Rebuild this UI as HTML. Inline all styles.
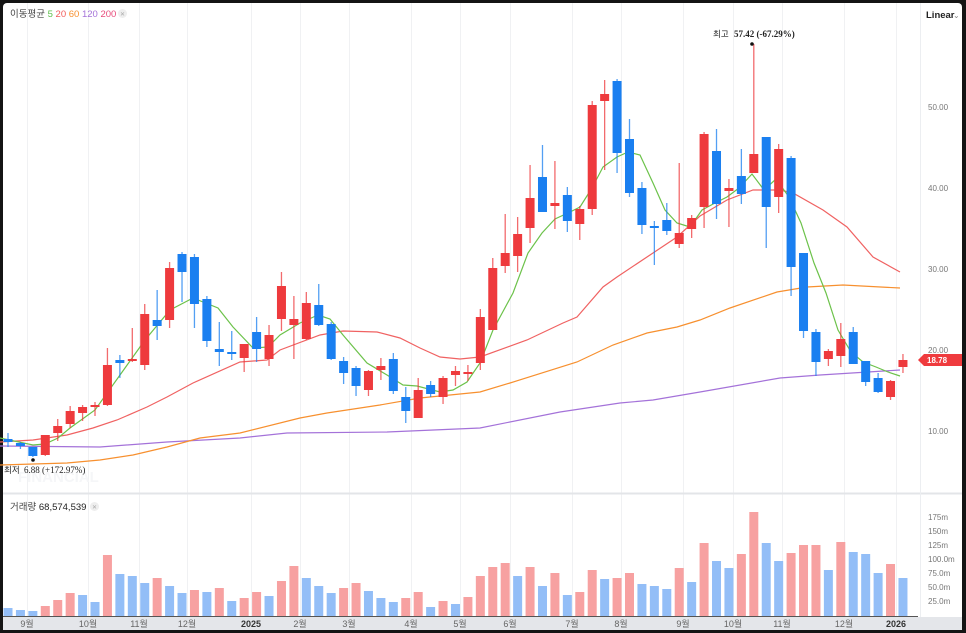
<!DOCTYPE html>
<html><head><meta charset="utf-8"><style>
html,body{margin:0;padding:0;background:#141414;}
#f{position:absolute;left:0;top:0;width:966px;height:633px;background:#141414;}
#c{position:absolute;left:3px;top:3px;width:959px;height:627px;background:#fff;border-radius:4px;overflow:hidden;}
svg{position:absolute;left:0;top:0;}
text{font-family:"Liberation Sans","Noto Sans CJK KR",sans-serif;}
</style></head><body>
<div id="f"><div id="c"></div>
<svg id="s" width="966" height="633" viewBox="0 0 966 633">
<g id="grid" stroke="#f0f1f3" stroke-width="1"></g>
<line x1="3" y1="493.5" x2="962" y2="493.5" stroke="#e3e5e8" stroke-width="2"/>
<line x1="920.5" y1="3" x2="920.5" y2="617" stroke="#eceef1"/>
<g id="vol"></g>
<g id="ma" fill="none" stroke-width="1.2"></g>
<g id="cnd"></g>
<rect x="3" y="617" width="959" height="13" fill="#e4e6ea"/>
<line x1="3" y1="616.5" x2="918" y2="616.5" stroke="#555" stroke-width="1"/>
<g font-size="9" fill="#666" text-anchor="middle" id="xl">
<text x="27" y="627">9월</text><text x="88" y="627">10월</text><text x="139" y="627">11월</text><text x="187" y="627">12월</text>
<text x="251" y="627" font-weight="bold" fill="#333">2025</text><text x="300" y="627">2월</text><text x="349" y="627">3월</text>
<text x="411" y="627">4월</text><text x="460" y="627">5월</text><text x="510" y="627">6월</text><text x="572" y="627">7월</text>
<text x="621" y="627">8월</text><text x="683" y="627">9월</text><text x="733" y="627">10월</text><text x="782" y="627">11월</text>
<text x="844" y="627">12월</text><text x="896" y="627" font-weight="bold" fill="#333">2026</text>
</g>
<g font-size="8" fill="#777">
<text x="928" y="110">50.00</text><text x="928" y="191">40.00</text><text x="928" y="272">30.00</text>
<text x="928" y="353">20.00</text><text x="928" y="434">10.00</text>
<text x="928" y="520">175m</text><text x="928" y="534">150m</text><text x="928" y="548">125m</text>
<text x="928" y="562">100.0m</text><text x="928" y="576">75.0m</text><text x="928" y="590">50.0m</text><text x="928" y="604">25.0m</text>
</g>
<text x="926" y="18" font-size="9.5" font-weight="bold" fill="#222">Linear</text>
<text x="953" y="18" font-size="8" fill="#888">⌄</text>
<polygon points="918,360 924,354 962,354 962,366 924,366" fill="#ef3b3e"/>
<text x="927" y="363" font-size="8" font-weight="bold" fill="#fff">18.78</text>
<text x="10" y="17" font-size="9.5"><tspan fill="#444">이동평균</tspan><tspan fill="#5cbf4a"> 5</tspan><tspan fill="#f25a5a"> 20</tspan><tspan fill="#f7902f"> 60</tspan><tspan fill="#a472d9"> 120</tspan><tspan fill="#e84b7b"> 200</tspan></text>
<circle cx="122.5" cy="13.5" r="4.5" fill="#eee"/><text x="120" y="16" font-size="6" fill="#aaa">✕</text>
<text x="10" y="510" font-size="9.5" fill="#444">거래량 <tspan fill="#222">68,574,539</tspan></text>
<circle cx="94.5" cy="506.5" r="4.5" fill="#eee"/><text x="92" y="509" font-size="6" fill="#aaa">✕</text>
<text x="18" y="482" font-size="15" font-weight="bold" fill="#f5f6f8">FINANCIAL</text>
<text x="4" y="473" font-size="8.5" fill="#222">최저 </text><text x="24" y="473" font-size="9" fill="#222" style="font-family:'Liberation Serif',serif">6.88 (+172.97%)</text>
<circle cx="33" cy="460" r="1.8" fill="#111"/>
<text x="713" y="37" font-size="8.5" fill="#222">최고 </text><text x="734" y="37" font-size="9" fill="#222" style="font-family:'Liberation Serif',serif" font-weight="bold">57.42 (-67.29%)</text>
<circle cx="752" cy="44" r="1.8" fill="#111"/>
</svg></div>
<script>
var NS="http://www.w3.org/2000/svg";
function el(p,t,a){var e=document.createElementNS(NS,t);for(var k in a)e.setAttribute(k,a[k]);document.getElementById(p).appendChild(e);return e;}
[27,88,139,187,251,300,349,411,460,510,572,621,683,733,782,844,896].forEach(function(x){el("grid","line",{x1:x+.5,y1:3,x2:x+.5,y2:616});});
var C=[[439,442,433,447,'b'],[443,446,442,449,'b'],[447,456,447,457,'b'],[435,455,435,456,'r'],[426,433,419,441,'r'],[411,424,406,428,'r'],[407,413,405,421,'r'],[405,406,402,416,'r'],[365,405,348,406,'r'],[360,363,355,378,'b'],[359,360,328,362,'r'],[314,365,304,370,'r'],[320,326,290,340,'b'],[268,320,262,328,'r'],[254,272,252,302,'b'],[257,304,254,328,'b'],[299,341,296,347,'b'],[349,352,322,366,'b'],[352,354,331,360,'b'],[344,358,344,372,'r'],[332,349,317,362,'b'],[335,359,325,366,'r'],[286,319,272,331,'r'],[319,325,296,359,'r'],[303,339,292,340,'r'],[305,325,284,326,'b'],[324,359,322,360,'b'],[361,373,357,384,'b'],[368,386,366,396,'b'],[371,390,370,396,'r'],[366,370,358,380,'r'],[359,391,353,394,'b'],[397,411,387,423,'b'],[390,418,378,418,'r'],[385,394,381,397,'b'],[378,397,376,404,'r'],[371,375,366,386,'r'],[372,374,365,381,'r'],[317,363,309,370,'r'],[268,330,258,330,'r'],[253,266,214,273,'r'],[234,256,217,272,'r'],[198,228,165,243,'r'],[177,212,145,212,'b'],[203,206,161,229,'r'],[195,221,187,232,'b'],[209,224,206,240,'r'],[105,209,101,215,'r'],[94,101,80,170,'r'],[81,153,79,173,'b'],[139,193,119,197,'b'],[188,225,182,234,'b'],[226,228,221,265,'b'],[220,231,203,235,'b'],[233,244,163,248,'r'],[218,229,215,238,'r'],[134,207,132,228,'r'],[151,204,129,219,'b'],[188,191,179,227,'r'],[176,194,149,204,'b'],[154,173,44,173,'r'],[137,207,137,248,'b'],[149,197,144,213,'r'],[158,267,156,296,'b'],[253,331,253,338,'b'],[332,362,329,376,'b'],[351,359,349,366,'r'],[339,356,323,367,'r'],[332,364,327,364,'b'],[361,382,361,386,'b'],[378,392,373,393,'b'],[381,397,380,400,'r'],[360,367,354,373,'r']];
var V=[[608,'b'],[610,'b'],[611,'b'],[606,'r'],[600,'r'],[593,'r'],[595,'b'],[602,'b'],[555,'r'],[574,'b'],[576,'b'],[583,'b'],[578,'r'],[586,'b'],[593,'b'],[590,'r'],[592,'b'],[588,'r'],[601,'b'],[598,'r'],[592,'r'],[596,'b'],[581,'r'],[566,'r'],[578,'b'],[586,'b'],[593,'b'],[588,'r'],[583,'r'],[591,'b'],[598,'b'],[602,'b'],[598,'r'],[592,'r'],[607,'b'],[601,'r'],[604,'b'],[597,'r'],[576,'r'],[567,'r'],[563,'r'],[576,'b'],[567,'r'],[586,'b'],[573,'r'],[595,'b'],[592,'r'],[570,'r'],[579,'b'],[578,'r'],[573,'r'],[584,'b'],[586,'b'],[589,'b'],[568,'r'],[582,'b'],[543,'r'],[561,'b'],[568,'b'],[554,'r'],[512,'r'],[543,'b'],[561,'b'],[553,'r'],[545,'r'],[545,'r'],[570,'b'],[542,'r'],[552,'b'],[554,'b'],[573,'b'],[564,'r'],[578,'b']];
function X(i){return 8+i*12.43;}
V.forEach(function(v,i){el("vol","rect",{x:X(i)-4.5,y:v[0],width:9,height:616-v[0],fill:v[1]=='r'?'#f7a1a1':'#93bef7'});});
C.forEach(function(c,i){var col=c[4]=='r'?'#ee3a3d':'#1a7ff0';var x=X(i);
el("cnd","line",{x1:x,y1:c[2],x2:x,y2:c[3],stroke:col,'stroke-width':1.3,opacity:.75});
el("cnd","rect",{x:x-4.5,y:c[0],width:9,height:Math.max(2,c[1]-c[0]),fill:col});});
var M={
"#a472d9":"0,446 100,447 167,442 240,438 287,433 387,432 480,428 560,412 620,403 653,400 700,392 780,378 820,375 900,370",
"#f7902f":"0,465 67,463 100,460 133,455 167,447 200,438 240,433 300,418 327,413 380,405 420,398 480,392 510,383 577,362 613,345 647,333 677,327 700,320 730,308 777,292 807,287 843,285 900,288",
"#f06262":"0,442 33,440 67,435 93,428 117,420 147,407 167,397 193,383 240,362 267,360 280,350 320,335 343,331 377,332 400,338 420,348 440,357 460,359 480,357 527,340 563,323 577,317 603,287 617,277 647,257 677,237 700,216 727,200 753,190 780,190 793,193 823,210 847,227 873,257 900,272",
"#6cc24a":"0,438 33,445 45,444 58,438 70,428 95,410 120,375 145,340 170,310 193,298 218,308 233,327 253,348 268,347 280,335 300,323 318,315 330,319 343,335 367,363 387,375 403,385 417,386 440,392 453,390 467,382 480,363 493,330 513,293 528,253 542,233 555,219 570,212 580,207 592,188 603,167 617,157 628,152 640,155 653,183 665,210 677,223 690,227 702,210 715,203 727,197 739,188 752,174 764,190 776,179 789,197 801,223 814,263 826,293 838,330 851,352 863,362 876,367 888,372 900,376"};
for(var k in M)el("ma","polyline",{points:M[k],stroke:k});
</script>
</body></html>
